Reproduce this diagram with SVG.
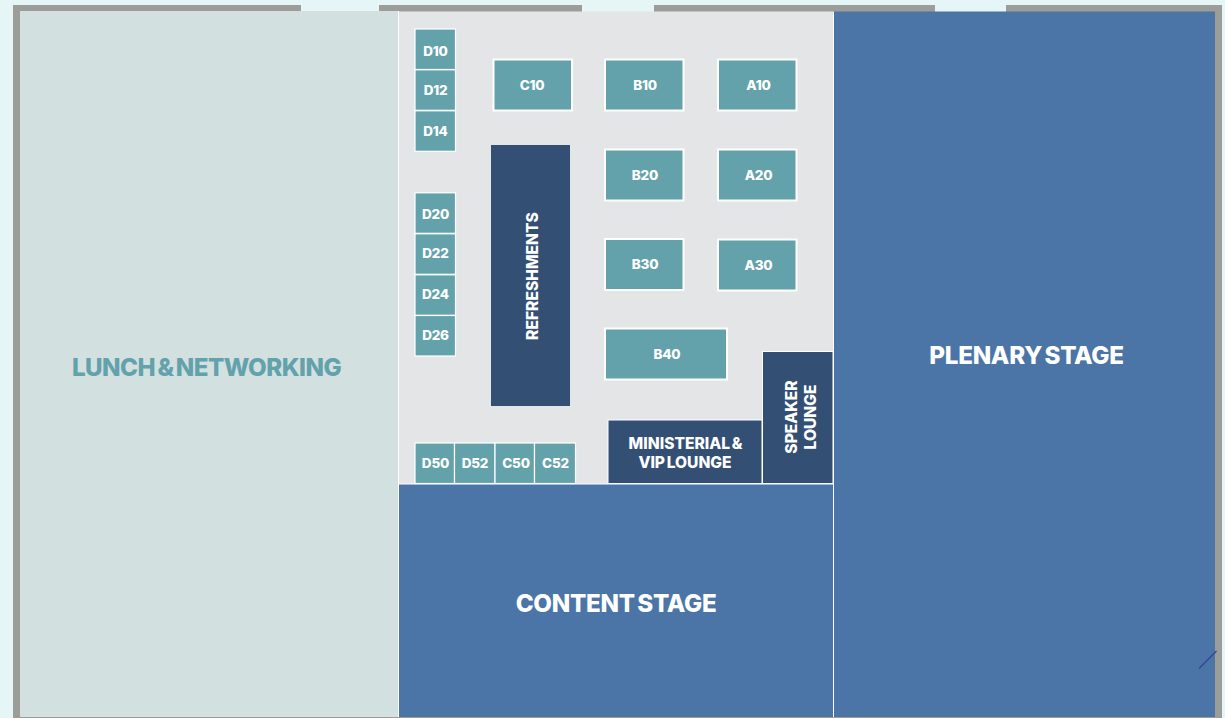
<svg xmlns="http://www.w3.org/2000/svg" width="1225" height="718" viewBox="0 0 1225 718">
<style>
text{font-family:"Inter","Liberation Sans",sans-serif;font-weight:800;text-anchor:middle;dominant-baseline:central;fill:#fff}
.b{fill:#63a2ab;stroke:#fff;stroke-width:1.2}
.w{fill:#63a2ab;stroke:#fff;stroke-width:2}
.bt{font-size:13.500px;letter-spacing:-.2px}
.n{fill:#344f74}
.s{fill:#4a75a6}
.st{font-size:24.200px;letter-spacing:-.3px;word-spacing:-2.500px}
.lt{font-size:15.600px;word-spacing:-1.800px}
</style>
<rect width="1225" height="718" fill="#e6f6f7"/>
<g id="walls" fill="#9c9c99">
<rect x="13" y="5" width="288" height="7"/><rect x="379" y="5" width="203" height="7"/><rect x="654" y="5" width="281" height="7"/><rect x="1006" y="5" width="216" height="7"/>
<rect x="13" y="5" width="7" height="713"/><rect x="1215" y="5" width="7" height="713"/>
<rect x="13" y="717" width="1209" height="1"/>
</g>
<rect id="hall" x="398" y="11.500" width="436" height="473" fill="#e4e5e7"/>
<g id="lunch"><rect x="20" y="11" width="378.500" height="706" fill="#d2e0e0"/><text x="206.500" y="367.500" class="st" style="fill:#63a2ab;letter-spacing:-.52px">LUNCH &amp; NETWORKING</text></g>
<g id="plenary"><rect x="833.500" y="11.500" width="381.500" height="705.500" class="s"/><text x="1026.500" y="355" class="st">PLENARY STAGE</text></g>
<g id="content"><rect x="399" y="484" width="434" height="233" class="s"/><text x="616" y="603" class="st">CONTENT STAGE</text></g>
<g id="dividers" stroke="#fff" stroke-width="1"><path d="M398.500 11V717M833.500 12V717M399 484H833" fill="none"/></g>
<g id="D10"><rect class="b" x="415" y="29" width="40.500" height="40.500"/><text class="bt" x="435.500" y="51">D10</text></g>
<g id="D12"><rect class="b" x="415" y="69.800" width="40.500" height="40.500"/><text class="bt" x="435.500" y="90">D12</text></g>
<g id="D14"><rect class="b" x="415" y="110.800" width="40.500" height="40.500"/><text class="bt" x="435.500" y="131">D14</text></g>
<g id="D20"><rect class="b" x="415" y="192.800" width="40.500" height="40.500"/><text class="bt" x="435.500" y="214">D20</text></g>
<g id="D22"><rect class="b" x="415" y="233.800" width="40.500" height="40.500"/><text class="bt" x="435.500" y="253">D22</text></g>
<g id="D24"><rect class="b" x="415" y="274.800" width="40.500" height="40.500"/><text class="bt" x="435.500" y="294">D24</text></g>
<g id="D26"><rect class="b" x="415" y="315.500" width="40.500" height="40.500"/><text class="bt" x="435.500" y="335">D26</text></g>
<g id="D50"><rect class="b" x="415" y="443" width="39.500" height="40.500"/><text class="bt" x="435.500" y="463">D50</text></g>
<g id="D52"><rect class="b" x="454.500" y="443" width="40.500" height="40.500"/><text class="bt" x="475" y="463">D52</text></g>
<g id="C50"><rect class="b" x="495" y="443" width="39.500" height="40.500"/><text class="bt" x="516" y="463">C50</text></g>
<g id="C52"><rect class="b" x="534.500" y="443" width="41" height="40.500"/><text class="bt" x="555.500" y="463">C52</text></g>
<g id="C10"><rect class="w" x="493.500" y="59.500" width="78.500" height="51"/><text class="bt" x="532" y="85">C10</text></g>
<g id="B10"><rect class="w" x="605" y="59.500" width="78.500" height="51"/><text class="bt" x="645" y="85">B10</text></g>
<g id="A10"><rect class="w" x="718" y="59.500" width="78.500" height="51"/><text class="bt" x="758.500" y="85">A10</text></g>
<g id="B20"><rect class="w" x="605" y="149.500" width="78.500" height="51"/><text class="bt" x="645" y="175">B20</text></g>
<g id="A20"><rect class="w" x="718" y="149.500" width="78.500" height="51"/><text class="bt" x="758.500" y="175">A20</text></g>
<g id="B30"><rect class="w" x="605" y="239" width="78.500" height="51"/><text class="bt" x="645" y="264">B30</text></g>
<g id="A30"><rect class="w" x="718" y="239.500" width="78.500" height="51"/><text class="bt" x="758.500" y="265">A30</text></g>
<g id="B40"><rect class="w" x="605" y="328.500" width="122" height="51"/><text class="bt" x="667" y="354">B40</text></g>
<g id="refreshments"><rect class="n" x="491" y="145" width="79" height="261"/><text class="lt" transform="translate(532 276) rotate(-90)">REFRESHMENTS</text></g>
<g id="vip"><rect class="n" x="608" y="420" width="154" height="63.500" stroke="#fff" stroke-width="1"/><text class="lt" x="685.500" y="443">MINISTERIAL &amp;</text><text class="lt" x="685" y="462">VIP LOUNGE</text></g>
<g id="speaker"><rect class="n" x="762.500" y="351.500" width="70.500" height="132" stroke="#fff" stroke-width="1"/><text class="lt" transform="translate(791.500 417) rotate(-90)">SPEAKER</text><text class="lt" transform="translate(810.500 417) rotate(-90)">LOUNGE</text></g>
<path id="mark" d="M1199 668.500L1216.500 651" stroke="#3a3f92" stroke-width="1.200" fill="none"/>
</svg>
